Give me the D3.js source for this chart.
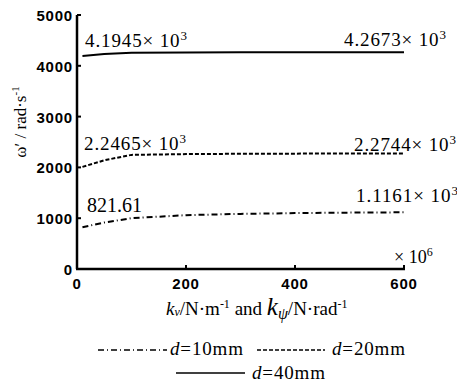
<!DOCTYPE html>
<html>
<head>
<meta charset="utf-8">
<script src="https://cdn.jsdelivr.net/npm/d3@7"></script>
<style>
  body { margin: 0; background: #fff; }
  svg { display: block; }
  .tick-lab { font-family: "Liberation Sans", Arial, sans-serif; font-weight: bold; font-size: 15px; letter-spacing: 0.8px; }
  .serif { font-family: "Liberation Serif", "Times New Roman", serif; font-size: 19px; }
</style>
</head>
<body>
<div id="chart"></div>
<script>
// stiffness (x 10^6) and natural frequency for each diameter
var kValues = [10, 50, 100, 200, 300, 400, 500, 600];
var omega10 = [821.61, 915, 1000, 1060, 1085, 1100, 1110, 1116.1];
var omega20 = [2010, 2140, 2246.5, 2262, 2268, 2271, 2273, 2274.4];
var omega40 = [4194.5, 4230, 4255, 4262, 4265, 4266, 4267, 4267.3];

var xTicks = [0, 200, 400, 600];
var yTicks = [0, 1000, 2000, 3000, 4000, 5000];

var series = [
  {name: "d=10mm", values: omega10, dash: "6,3,1,3"},
  {name: "d=20mm", values: omega20, dash: "4,2"},
  {name: "d=40mm", values: omega40, dash: null}
];

var width = 457, height = 383;

var svg = d3.select("#chart").append("svg")
    .attr("width", width)
    .attr("height", height);

// scales
var x = d3.scaleLinear().domain([0, 600]).range([77, 404]);
var y = d3.scaleLinear().domain([0, 5000]).range([269, 15]);

// axes lines
svg.append("line")
    .attr("x1", x(0)).attr("x2", x(0))
    .attr("y1", y(0)).attr("y2", y(5000))
    .style("stroke", "black").style("stroke-width", 2.5);
svg.append("line")
    .attr("x1", x(0) - 1).attr("x2", x(600) + 1)
    .attr("y1", y(0)).attr("y2", y(0))
    .style("stroke", "black").style("stroke-width", 2.5);

// ticks (pointing inward)
svg.selectAll(".ytick").data(yTicks).enter().append("line")
    .attr("x1", x(0)).attr("x2", x(0) + 4)
    .attr("y1", function(d){ return y(d); })
    .attr("y2", function(d){ return y(d); })
    .style("stroke", "black").style("stroke-width", 2);
svg.selectAll(".xtick").data(xTicks).enter().append("line")
    .attr("x1", function(d){ return x(d); })
    .attr("x2", function(d){ return x(d); })
    .attr("y1", y(0)).attr("y2", y(0) - 4)
    .style("stroke", "black").style("stroke-width", 2);

// tick labels
svg.selectAll(".ylab").data(yTicks).enter().append("text")
    .attr("class", "tick-lab")
    .attr("x", x(0) - 4)
    .attr("y", function(d){ return y(d) + 6; })
    .style("text-anchor", "end")
    .text(function(d){ return d; });
svg.selectAll(".xlab").data(xTicks).enter().append("text")
    .attr("class", "tick-lab")
    .attr("x", function(d){ return x(d); })
    .attr("y", y(0) + 20)
    .style("text-anchor", "middle")
    .text(function(d){ return d; });

// x10^6 multiplier
var mult = svg.append("text").attr("class", "serif")
    .attr("x", 394).attr("y", 263).style("font-size", "18px");
mult.append("tspan").text("× 10");
mult.append("tspan").attr("dy", -7).style("font-size", "12px").text("6");

// lines
var line = d3.line()
    .x(function(d, i){ return x(kValues[i]); })
    .y(function(d){ return y(d); });

series.forEach(function(s){
  svg.append("path")
    .datum(s.values)
    .attr("d", line)
    .style("fill", "none")
    .style("stroke", "black")
    .style("stroke-width", 2)
    .style("stroke-dasharray", s.dash);
});

// value annotations
function sci(txt, xpos, ypos){
  var t = svg.append("text").attr("class", "serif")
      .attr("x", xpos).attr("y", ypos)
      .attr("textLength", 102);
  t.append("tspan").text(txt + "× 10");
  t.append("tspan").attr("dy", -7).style("font-size", "13px").text("3");
}
sci("4.1945", 85, 47);
sci("4.2673", 344, 46);
sci("2.2465", 84, 150);
sci("2.2744", 354, 151);
sci("1.1161", 356, 202);
svg.append("text").attr("class", "serif")
    .style("font-size", "20px")
    .attr("x", 87).attr("y", 212).text("821.61");

// y axis title
var yt = svg.append("text").attr("class", "serif")
    .style("font-size", "17px")
    .attr("transform", "translate(26,122) rotate(-90)")
    .style("text-anchor", "middle");
yt.append("tspan").text("ω′ / rad·s");
yt.append("tspan").attr("dy", -7).style("font-size", "11px").text("-1");

// x axis title
var xt = svg.append("text").attr("class", "serif")
    .style("font-size", "19px")
    .attr("x", 166).attr("y", 315);
xt.append("tspan").style("font-style", "italic").text("k");
xt.append("tspan").attr("dy", 1).style("font-size", "12px").style("font-style", "italic").text("v");
xt.append("tspan").attr("dy", -1).text("/N·m");
xt.append("tspan").attr("dy", -7).style("font-size", "12px").text("-1");
xt.append("tspan").attr("dy", 7).text(" and  ");
xt.append("tspan").style("font-style", "italic").style("font-size", "25px").text("k");
xt.append("tspan").attr("dy", 4).style("font-size", "16px").style("font-style", "italic").text("ψ");
xt.append("tspan").attr("dy", -4).text("/N·rad");
xt.append("tspan").attr("dy", -7).style("font-size", "12px").text("-1");

// legend
var legendPos = [
  {x1: 98, x2: 167, y: 350, tx: 170, ty: 355},
  {x1: 257, x2: 325, y: 350, tx: 332, ty: 355},
  {x1: 176, x2: 245, y: 373, tx: 252, ty: 379}
];
series.forEach(function(s, i){
  var p = legendPos[i];
  svg.append("line")
    .attr("x1", p.x1).attr("x2", p.x2)
    .attr("y1", p.y).attr("y2", p.y)
    .style("stroke", "black")
    .style("stroke-width", 1.5)
    .style("stroke-dasharray", s.dash);
  var lt = svg.append("text").attr("class", "serif")
    .attr("x", p.tx).attr("y", p.ty)
    .attr("textLength", 73);
  lt.append("tspan").style("font-style", "italic").text("d");
  lt.append("tspan").text(s.name.slice(1));
});
</script>
</body>
</html>
